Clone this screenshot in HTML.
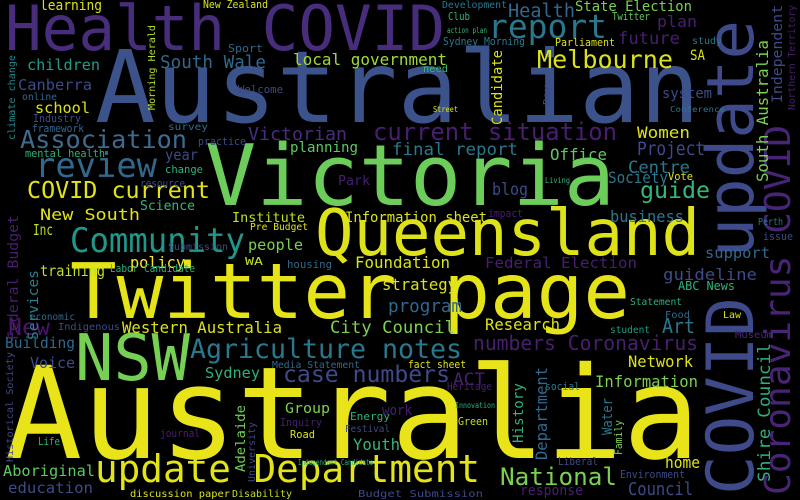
<!DOCTYPE html>
<html><head><meta charset="utf-8"><style>
html,body{margin:0;padding:0;background:#000;}
svg{display:block;}
text{font-family:"DejaVu Sans Mono","Liberation Mono",monospace;}
</style></head><body>
<svg id="cloud" width="800" height="500" viewBox="0 0 800 500">
<rect width="800" height="500" fill="#000"/>
</svg>
<script>
const words = ["Australia","Australian","Health COVID","Victoria","Twitter page","Queensland","COVID update","Coronavirus COVID","NSW","Community",
"update Department","Agriculture notes","review","report","Melbourne","Association","COVID current","current situation","final report","Victorian",
"local government","South Wale","Canberra","children","school","online","Industry","framework","mental health","climate change",
"Morning Herald","learning","New Zealand","Sport","Welcome","survey","practice","year","change","resource",
"planning","Park","Science","New South","Inc","training","policy","Submission","Labor Candidate","WA",
"housing","Institute","Information sheet","Pre Budget","people","Foundation","Federal Election","support","guideline","ABC News",
"strategy","program","City Council","Western Australia","Research","Art","Statement","Food","Law","student",
"Museum","numbers Coronavirus","Network","Information","ACT","case numbers","Sydney","Media Statement","Heritage","fact sheet",
"social","Group","Inquiry","Road","Energy","Festival","work","Youth","Green","Innovation",
"Adelaide","University","journal","Life","Historical Society","Aboriginal","education","Building","Voice","New",
"economic","Indigenous","discussion paper","Disability","Budget Submission","Independent Candidate","Department","History","Water","Family",
"National","Council","home","response","Environment","Liberal","Shire Council","South Australia","Independent","Northern Territory",
"Federal Budget","Services","Candidate","Health","State Election","plan","future","SA","system","Development",
"Club","Twitter","action plan","Sydney Morning","Parliament","study","need","Women","Project","Office",
"Centre","Society","Vote","guide","blog","business","impact","Perth","issue","Conference",
"Living","Street","Day"];
const weights = [128,100,62,85,77,64,65,36,64,34,
38,27,34,33,25,25,23,24,17,18,
16,17.6,15,15,15,10,11,11,11,10,
10,14,11,11,11,10,11,15,11,11,
14,13,13,16,15,15,16,10,11,11,
11,13.5,14,10,15,16,15,15,16,12,
16,18,17,15.6,16,20,10,10,10,10,
10,20,16,16,17,23,15,10,11,11,
11,14,11,11,11,10,14,16,11,8,
13,10,11,11,10,15,15,15,15,23,
10,10,10,10,10,8,16,14,14,11,
24,18,16,14,11,11,17,16,14,10,
14,14,14,18.5,14,16,17,14,14,10,
11,11,8,11,11,10,10,16,19,16,
17,16,11,23,17,16,11,10,11,8,
8,8,10];
const colors = ["#e8e419","#3b528b","#472d7b","#6ccd5a","#e5e419","#dde318","#3e4a89","#482475","#75d054","#1f988b",
"#e2e418","#2a788e","#31688e","#2a788e","#dae319","#3e6a8e","#e3e418","#481f70","#2a788e","#472d7b",
"#a0da39","#31688e","#3e4a89","#1f9e89","#d8e219","#31688e","#3e4a89","#31688e","#2db27d","#23898e",
"#b5de2b","#d8e219","#dae319","#31688e","#3e4a89","#31688e","#3e4a89","#3e4a89","#2db27d","#3e4a89",
"#5ec962","#481f70","#35b779","#e0e318","#bddf26","#c2df23","#fde725","#3e4a89","#2db27d","#c2df23",
"#31688e","#c2df23","#dae319","#e0e318","#7ad151","#d8e219","#481f70","#31688e","#3e4a89","#2db27d",
"#dde318","#31688e","#7ad151","#dae319","#dde318","#2a788e","#2db27d","#31688e","#d8e219","#1f9e89",
"#482878","#481f70","#dde318","#7ad151","#481f70","#3e4a89","#2db27d","#31688e","#481f70","#dae319",
"#2a788e","#7ad151","#481f70","#dae319","#2db27d","#3e4a89","#481f70","#35b779","#c2df23","#2db27d",
"#6ece58","#3e4a89","#481f70","#2db27d","#3e4a89","#5ec962","#3e4a89","#31688e","#3e4a89","#481668",
"#31688e","#3e4a89","#dae319","#c2df23","#3e4a89","#2db27d","#31688e","#2db27d","#2a788e","#7ad151",
"#7ad151","#3e4a89","#dde318","#481f70","#3e4a89","#3e4a89","#2db27d","#7ad151","#3e4a89","#481f70",
"#481f70","#26828e","#dae319","#31688e","#7ad151","#481f70","#481f70","#dae319","#3e4a89","#2a788e",
"#35b779","#5ec962","#35b779","#2a788e","#dae319","#2a788e","#35b779","#dae319","#3e4a89","#5ec962",
"#2a788e","#2a788e","#dae319","#35b779","#3e4a89","#2a788e","#481f70","#2a788e","#3e4a89","#2a788e",
"#35b779","#dae319","#3e4a89"];
// layout (placement from the cloud algorithm): x, baseline y, fitted width, rotation
const layoutX = [5,95,5,205,70,315,753,790,75,70,
95,190,35,488,537,20,27,373,392,248,
293,160,18,27,35,22,33,32,25,15,
155,40,203,228,238,168,198,165,165,140,
290,338,140,40,33,40,130,168,110,245,
287,232,345,250,248,355,485,705,663,678,
382,388,330,122,485,662,630,665,723,610,
735,473,628,595,453,283,205,272,447,408,
545,285,280,290,350,345,382,353,458,455,
245,255,160,38,13,3,8,5,30,8,
30,58,130,232,358,298,547,523,612,622,
500,628,665,520,620,558,770,768,782,795,
18,38,502,508,575,657,618,690,662,442,
448,612,447,443,555,692,423,637,637,550,
628,608,668,640,492,610,488,758,763,670,
545,433,550];
const layoutY = [458,122,50,205,318,255,495,495,380,252,
482,358,177,38,68,148,198,140,155,140,
65,68,90,70,113,100,122,132,157,140,
110,10,8,52,93,130,145,160,173,187,
152,185,210,220,235,276,268,250,272,265,
268,222,222,230,250,268,268,258,280,290,
290,312,333,333,330,333,305,318,318,333,
338,350,367,387,385,382,378,368,390,368,
390,413,426,438,420,432,415,450,425,408,
472,482,437,445,462,476,493,348,368,335,
320,330,497,497,497,465,460,443,435,455,
485,495,468,495,478,465,482,182,103,110,
340,340,125,17,11,27,44,60,98,8,
20,20,33,45,46,44,72,138,155,160,
173,183,180,198,195,222,217,225,240,112,
183,112,105];
const layoutW = [695,605,440,410,560,385,475,370,115,175,
385,272,122,119,136,167,183,244,126,99,
154,106,74,73,55,35,48,52,80,85,
85,62,65,35,45,40,48,33,38,45,
68,32,55,100,20,65,55,60,85,18,
45,73,142,58,55,95,152,65,94,57,
75,74,125,160,75,33,52,25,18,40,
38,225,65,103,32,167,55,88,45,58,
35,45,42,25,40,45,30,47,30,40,
67,60,40,22,110,92,85,70,45,42,
45,62,100,60,125,75,93,60,37,35,
117,65,35,63,65,40,139,142,98,105,
125,70,75,67,117,40,62,15,50,65,
22,38,40,82,60,30,25,53,68,57,
62,60,25,70,36,74,35,25,30,55,
25,25,20];
const layoutRot = [0,0,0,0,0,0,-90,-90,0,0,
0,0,0,0,0,0,0,0,0,0,
0,0,0,0,0,0,0,0,0,-90,
-90,0,0,0,0,0,0,0,0,0,
0,0,0,0,0,0,0,0,0,0,
0,0,0,0,0,0,0,0,0,0,
0,0,0,0,0,0,0,0,0,0,
0,0,0,0,0,0,0,0,0,0,
0,0,0,0,0,0,0,0,0,0,
-90,-90,0,0,-90,0,0,0,0,0,
0,0,0,0,0,0,-90,-90,-90,-90,
0,0,0,0,0,0,-90,-90,-90,-90,
-90,-90,-90,0,0,0,0,0,0,0,
0,0,0,0,0,0,0,0,0,0,
0,0,0,0,0,0,0,0,0,0,
0,0,-90];
function fontSize(w){ return w; }
const svg = document.getElementById('cloud');
const NS = 'http://www.w3.org/2000/svg';
for (let i = 0; i < words.length; i++) {
  const t = document.createElementNS(NS, 'text');
  
  
  const x = layoutX[i], y = layoutY[i];
  t.setAttribute('x', x);
  t.setAttribute('y', y);
  t.setAttribute('font-size', fontSize(weights[i]));
  t.setAttribute('fill', colors[i]);
  t.setAttribute('textLength', layoutW[i]);
  t.setAttribute('lengthAdjust', 'spacingAndGlyphs');
  if (layoutRot[i]) t.setAttribute('transform', 'rotate(' + layoutRot[i] + ' ' + x + ' ' + y + ')');
  t.textContent = words[i];
  svg.appendChild(t);
}
</script>
</body></html>
